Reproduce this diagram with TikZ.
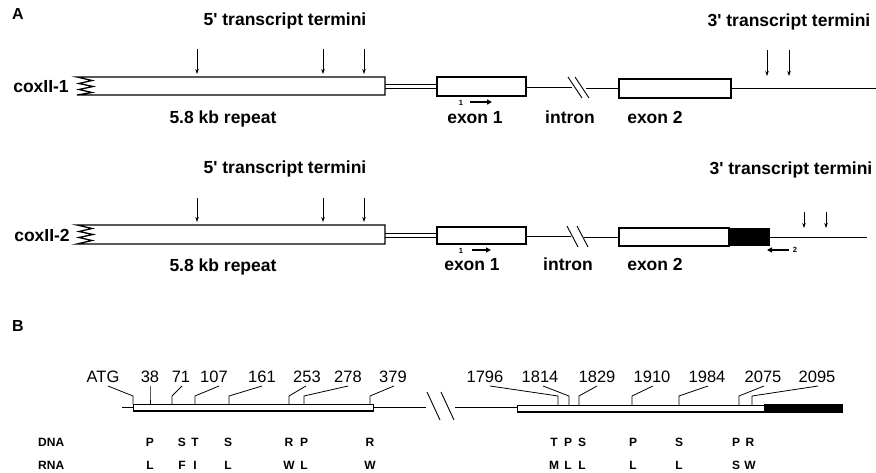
\documentclass[tikz,border=0pt]{standalone}
\usepackage{fontspec}
\setmainfont{Liberation Sans}
\usetikzlibrary{arrows.meta}

\begin{document}
\begin{tikzpicture}[x=1pt,y=-1pt,
    panel/.style={font=\fontsize{16}{16}\selectfont\bfseries,inner sep=0pt,anchor=base},
    hd/.style={font=\fontsize{17.5}{17.5}\selectfont\bfseries,inner sep=0pt,anchor=base},
    num/.style={font=\fontsize{16.5}{16.5}\selectfont,inner sep=0pt,anchor=base},
    aa/.style={font=\fontsize{12}{12}\selectfont\bfseries,inner sep=0pt,anchor=base},
    tiny/.style={font=\fontsize{7.5}{7.5}\selectfont\bfseries,inner sep=0pt},
    seg/.style={line width=1.3pt},
    wire/.style={line width=0.9pt},
    term/.style={line width=0.7pt,-{Stealth[length=5pt,width=3.5pt]}},
    primer/.style={line width=2.2pt,-{Triangle[length=5pt,width=5pt]}}]
    \useasboundingbox (0,0) rectangle (876,473);
    % panel A, coxII-1
    \node[panel] (pa) at (18,20) {A};
    \node[hd] (five1) at (285,26) {5\textquotesingle{} transcript termini};
    \node[hd] (three1) at (789,27) {3\textquotesingle{} transcript termini};
    \node[hd] (cox1) at (41,93) {coxII-1};
    \draw[seg] (385,77) -- (77,77) -- (92,80.5) -- (79,83.5) -- (93,86.5) -- (79,89.5) -- (92,92.5) -- (77,95) -- (385,95) -- cycle;
    \draw[wire] (385,84) -- (437,84);
    \draw[wire] (385,88) -- (437,88);
    \draw[seg] (437,77) rectangle (526,96);
    \draw[wire] (526,87) -- (572,87);
    \draw[wire] (568,77) -- (582,98);
    \draw[wire] (575,77) -- (589,98);
    \draw[wire] (586,88) -- (619,88);
    \draw[seg] (619,79) rectangle (731,98);
    \draw[wire] (731,88) -- (876,88);
    \foreach \x in {197,323,364} \draw[term] (\x,49) -- (\x,74);
    \foreach \x in {767,789} \draw[term] (\x,50) -- (\x,76);
    \node[hd] (rep1) at (223,124) {5.8 kb repeat};
    \node[hd] (ex11) at (475,124) {exon 1};
    \node[hd] (int1) at (570,124) {intron};
    \node[hd] (ex21) at (655,124) {exon 2};
    \node[tiny] (p1a) at (461,103) {1};
    \draw[primer] (470,102) -- (492,102);
    % panel A, coxII-2
    \node[hd] (five2) at (285,174) {5\textquotesingle{} transcript termini};
    \node[hd] (three2) at (791,175) {3\textquotesingle{} transcript termini};
    \node[hd] (cox2) at (42,242) {coxII-2};
    \draw[seg] (385,225) -- (77,225) -- (92,228.5) -- (79,231.5) -- (93,234.5) -- (79,237.5) -- (92,240.5) -- (77,244) -- (385,244) -- cycle;
    \draw[wire] (385,233) -- (437,233);
    \draw[wire] (385,237) -- (437,237);
    \draw[seg] (437,227) rectangle (526,244);
    \draw[wire] (526,236) -- (571,236);
    \draw[wire] (567,226) -- (578,247);
    \draw[wire] (577,226) -- (588,247);
    \draw[wire] (584,237) -- (619,237);
    \draw[seg] (619,228) rectangle (729,246);
    \fill (729,228) rectangle (770,246);
    \draw[wire] (770,237) -- (867,237);
    \foreach \x in {197,323,364} \draw[term] (\x,198) -- (\x,222);
    \foreach \x in {804,826} \draw[term] (\x,212) -- (\x,228);
    \node[hd] (rep2) at (223,272) {5.8 kb repeat};
    \node[hd] (ex12) at (472,271) {exon 1};
    \node[hd] (int2) at (568,271) {intron};
    \node[hd] (ex22) at (655,271) {exon 2};
    \node[tiny] (p1b) at (461,251) {1};
    \draw[primer] (472,250) -- (491,250);
    \node[tiny] (p2b) at (795,250) {2};
    \draw[primer] (789,250) -- (767,250);
    % panel B
    \node[panel] (pb) at (18,331) {B};
    \draw[wire] (122,407) -- (133,407);
    \draw[line width=0.8pt] (133,404) rectangle (373,411);
    \draw[line width=1.8pt] (133,411) -- (373,411);
    \draw[wire] (373,407) -- (426,407);
    \draw[wire] (427,392) -- (440,420);
    \draw[wire] (441,392) -- (454,420);
    \draw[wire] (455,407) -- (517,407);
    \draw[line width=0.8pt] (517,405) rectangle (764,412);
    \draw[line width=1.8pt] (517,412) -- (764,412);
    \fill (764,404.4) rectangle (843,412.9);
    \foreach \s/\b in {108/133, 150/150, 182/172, 219/195, 262/229, 306/289, 348/304, 394/370}
      \draw[line width=0.8pt] (\s,386) -- (\b,396) -- (\b,404);
    \foreach \n/\x in {ATG/103, 38/150, 71/181, 107/214, 161/262, 253/307, 278/348, 379/393,
        1796/485, 1814/540, 1829/597, 1910/652, 1984/707, 2075/763, 2095/817}
      \node[num] (n\n) at (\x,382) {\n};
    \foreach \s/\b in {490/558, 543/569, 597/579, 653/632, 708/679, 764/739, 818/752}
      \draw[line width=0.8pt] (\s,386) -- (\b,396) -- (\b,405);
    \node[aa,anchor=base west] (dna) at (38,446) {DNA};
    \node[aa,anchor=base west] (rna) at (38,469) {RNA};
    \foreach \l/\x [count=\i] in {P/150, S/182, T/195, S/228, R/289, P/304, R/370,
        T/554, P/568, S/582, P/633, S/679, P/736, R/750}
      \node[aa] (d\i) at (\x,446) {\l};
    \foreach \l/\x [count=\i] in {L/150, F/182, I/195, L/228, W/289, L/304, W/370,
        M/554, L/568, L/582, L/633, L/679, S/736, W/750}
      \node[aa] (r\i) at (\x,469) {\l};
  \end{tikzpicture}
\end{document}
